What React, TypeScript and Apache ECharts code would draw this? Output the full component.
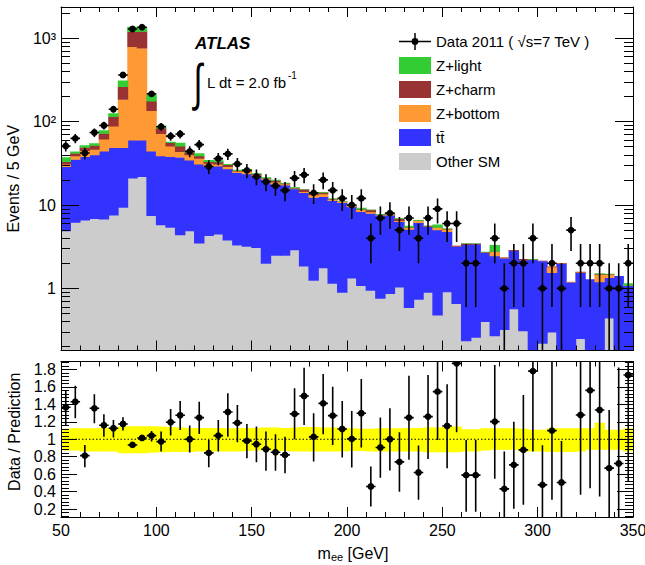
import React, { useEffect, useRef } from 'react';
import * as echarts from 'echarts';

// ---- bins (m_ee, 5 GeV wide, 50..350 GeV) ----
const binEdges: number[] = Array.from({ length: 61 }, (_, i) => 50 + 5 * i);

// ---- stacked MC components (events per bin) ----
const otherSM = [
  4.9, 6.2, 6.6, 6.9, 6.8, 7.6, 9.4, 21.1, 21.9, 7.5,
  5.8, 5.4, 4.4, 4.9, 3.5, 4.3, 4.5, 3.8, 3.3, 3.2,
  3.1, 2.0, 2.5, 2.5, 2.9, 1.86, 1.25, 1.77, 1.15, 0.9,
  1.33, 1.08, 0.95, 0.76, 0.87, 1.04, 0.59, 0.74, 0.9, 0.48,
  0.91, 0.66, 0.235, 0.26, 0.4, 0.27, 0.32, 0.57, 0.31, 0,
  0.22, 0.3, 0, 0, 0.25, 0, 0, 0.44, 0, 0,
];
const ttbar = [
  24.0, 29.2, 31.5, 33.0, 37.7, 41.2, 39.4, 39.2, 38.4, 37.0,
  33.0, 32.7, 33.1, 29.8, 27.6, 24.6, 24.9, 23.3, 21.2, 20.4,
  18.8, 18.4, 15.4, 14.9, 12.7, 12.24, 11.15, 10.83, 10.15, 9.8,
  8.17, 7.26, 7.03, 6.84, 6.73, 5.29, 4.54, 5.41, 4.61, 4.55,
  3.89, 2.57, 3.115, 3.16, 2.32, 2.19, 2.0, 2.29, 1.89, 2.22,
  1.92, 1.25, 2.0, 1.19, 1.3, 1.29, 1.2, 0.91, 1.41, 1.08,
];
const zBottom = [
  2.2, 3.4, 6.9, 6.8, 17.5, 40, 136, 733, 700, 91.5,
  33.2, 12.9, 6.2, 5.3, 5.3, 2.8, 1.6, 1.9, 1.0, 1.9,
  1.1, 0.5, 0.9, 0.6, 0.3, 0.4, 0.9, 1.0, 0.4, 0.3,
  0.3, 0.56, 0.32, 0.1, 0.2, 0.17, 0.27, 0.35, 0.04, 0.37,
  0.35, 0.01, 0.01, 0.01, 0.01, 0.31, 0.01, 0.01, 0.01, 0.01,
  0.01, 0.27, 0.01, 0.01, 0.02, 0, 0.28, 0.13, 0, 0.01,
];
const zCharm = [
  2.1, 3.1, 4.3, 5.3, 10.6, 26.2, 78, 407, 450, 41,
  12, 5, 7.3, 3, 2.4, 1.4, 2.0, 1.5, 0.5, 0.7,
  0.6, 0.2, 1.0, 0.3, 0.2, 1.0, 0.4, 0.6, 0.2, 0.05,
  0.1, 0.05, 0.45, 0.05, 0.15, 0.4, 0.05, 0.05, 0.1, 0.02,
  0.03, 0.01, 0.09, 0.01, 0.01, 0.01, 0.01, 0.01, 0.04, 0.01,
  0, 0.01, 0.01, 0, 0.01, 0, 0.02, 0.01, 0, 0,
];
const zLight = [
  4.2, 1.8, 2.7, 3.0, 6.3, 11, 48, 177, 140, 32,
  6, 1.4, 5, 1.5, 3.1, 1.6, 1.5, 0.6, 0.4, 0.9,
  0.4, 0.4, 0.3, 0.2, 0.2, 0.1, 0.1, 0.1, 0.1, 0.05,
  0.15, 0.35, 0.05, 0.05, 0.1, 0.02, 0.2, 0.05, 0.01, 0.43,
  0.04, 0, 0.01, 0.01, 0.01, 0.54, 0, 0, 0, 0.01,
  0, 0, 0, 0, 0, 0, 0.01, 0.01, 0, 0.06,
];

// ---- data ----
const dataEvents = [
  51, 63, 42, 74, 90, 141, 363, 1292, 1355, 215,
  87, 67, 71, 44, 53, 29, 36, 41, 31, 26,
  22, 19, 17, 15, 21, 23, 14, 20, 15, 12,
  10, 12, 4, 7, 8, 5, 7, 4, 7, 9,
  6, 6, 2, 2, 0, 4, 1, 2, 2, 4,
  1, 2, 1, 5, 2, 2, 2, 1, 1, 2,
];
const dataErr = [
  7.1, 7.9, 6.5, 8.6, 9.5, 11.9, 19.1, 35.9, 36.8, 14.7,
  9.3, 8.2, 8.4, 6.6, 7.3, 5.4, 6.0, 6.4, 5.6, 5.1,
  4.7, 4.4, 4.1, 3.9, 4.6, 4.8, 3.7, 4.5, 3.9, 3.5,
  3.2, 3.5, 2.0, 2.6, 2.8, 2.2, 2.6, 2.0, 2.6, 3.0,
  2.4, 2.4, 1.4, 1.4, 0, 2.0, 1.0, 1.4, 1.4, 2.0,
  1.0, 1.4, 1.0, 2.2, 1.4, 1.4, 1.4, 1.0, 1.0, 1.4,
];

// ---- ratio panel ----
const ratio: (number | null)[] = [
  1.366, 1.43, 0.813, 1.354, 1.16, 1.126, 1.175, 0.935, 1.015, 1.042,
  0.973, 1.194, 1.274, 1.0, 1.248, 0.844, 1.042, 1.312, 1.187, 0.981,
  0.943, 0.886, 0.851, 0.821, 1.29, 1.495, 1.027, 1.411, 1.27, 1.118,
  1.004, 1.297, 0.459, 0.905, 1.0, 0.741, 1.248, 0.619, 1.259, 1.545,
  1.152, 1.869, 0.589, 0.589, null, 1.202, 0.432, 0.707, 0.878, 1.78,
  0.478, 1.099, 0.505, null, 1.278, 1.56, 1.335, 0.669, 0.722, 1.735,
];
const ratioLo: (number | null)[] = [
  1.152, 1.24, 0.68, 1.183, 1.03, 1.019, 1.099, 0.905, 0.985, 0.973,
  0.859, 1.042, 1.107, 0.848, 1.061, 0.68, 0.859, 1.03, 0.966, 0.783,
  0.737, 0.638, 0.638, 0.611, 1.0, 1.164, 0.745, 1.057, 0.935, 0.79,
  0.676, 0.905, 0.23, 0.56, 0.642, 0.4, 0.764, 0.307, 0.775, 0.99,
  0.669, 1.08, 0.17, 0.17, null, 0.547, 0, 0.204, 0.25, 0.86,
  0, 0.307, 0, null, 0.364, 0.44, 0.345, 0, 0, 0.51,
];
const ratioHi: (number | null)[] = [
  1.564, 1.613, 0.935, 1.514, 1.286, 1.221, 1.251, 0.965, 1.045, 1.095,
  1.088, 1.347, 1.438, 1.156, 1.43, 0.992, 1.221, 1.526, 1.392, 1.175,
  1.145, 1.088, 1.057, 1.03, 1.583, 1.819, 1.297, 1.747, 1.602, 1.438,
  1.324, 1.69, 0.688, 1.248, 1.354, 1.08, 1.728, 0.928, 1.735, 2.1,
  1.629, 2.6, 0.99, 0.99, null, 1.85, 0.86, 1.2, 1.507, 2.67,
  0.93, 1.95, 0.98, null, 2.16, 2.65, 2.26, 1.335, 1.82, 2.95,
];
const bandUp = [
  0.12, 0.125, 0.125, 0.125, 0.13, 0.135, 0.145, 0.15, 0.15, 0.15,
  0.145, 0.14, 0.135, 0.13, 0.13, 0.13, 0.13, 0.125, 0.125, 0.13,
  0.13, 0.135, 0.135, 0.13, 0.135, 0.14, 0.14, 0.135, 0.135, 0.13,
  0.125, 0.12, 0.12, 0.125, 0.125, 0.125, 0.13, 0.13, 0.135, 0.135,
  0.145, 0.145, 0.115, 0.115, 0.125, 0.125, 0.125, 0.125, 0.12, 0.11,
  0.11, 0.125, 0.125, 0.125, 0.125, 0.125, 0.19, 0.11, 0.11, 0.125,
];
const bandDown = [
  0.13, 0.13, 0.14, 0.14, 0.14, 0.14, 0.16, 0.16, 0.16, 0.155,
  0.15, 0.145, 0.145, 0.145, 0.14, 0.14, 0.14, 0.14, 0.14, 0.135,
  0.13, 0.13, 0.13, 0.135, 0.14, 0.14, 0.14, 0.14, 0.14, 0.14,
  0.135, 0.135, 0.14, 0.14, 0.14, 0.14, 0.14, 0.14, 0.15, 0.15,
  0.15, 0.15, 0.14, 0.14, 0.13, 0.12, 0.12, 0.12, 0.14, 0.14,
  0.14, 0.145, 0.145, 0.145, 0.14, 0.12, 0.12, 0.12, 0.12, 0.14,
];

// ---- tick labels ----
const logTickValues = [1, 10, 100, 1000];
const logTickLabels: Record<number, string> = { 1: '1', 10: '10', 100: '10²', 1000: '10³' };
const ratioTickValues = [0.2, 0.4, 0.6, 0.8, 1, 1.2, 1.4, 1.6, 1.8];

const DATA_NAME = 'Data 2011 ( √s=7 TeV )';
const TT_NAME = 'tt\u0304';
const FONT = '"Liberation Sans", Arial, Helvetica, sans-serif';

const Y_MIN = 0.18;
const Y_MAX = 2370;
const R_MIN = 0.11;
const R_MAX = 1.89;
const TINY = 1e-4;
const OVERLAP = 0.45; // px overlap between neighbouring bins to hide anti-alias seams

const components = [
  { name: 'Other SM', values: otherSM, color: '#cccccc' },
  { name: TT_NAME, values: ttbar, color: '#3333ff' },
  { name: 'Z+bottom', values: zBottom, color: '#ff9933' },
  { name: 'Z+charm', values: zCharm, color: '#993333' },
  { name: 'Z+light', values: zLight, color: '#33cc33' },
];

function buildOption() {
  const cumulative = new Array(60).fill(0);
  const stackRows = components.map((c) =>
    c.values.map((v, i) => {
      const base = cumulative[i];
      cumulative[i] += v;
      return [binEdges[i], binEdges[i + 1], base, cumulative[i]];
    })
  );

  const centers = binEdges.slice(0, 60).map((e, i) => (e + binEdges[i + 1]) / 2);
  const halfW = (binEdges[1] - binEdges[0]) / 2;

  const logMinor: number[] = [];
  [0.1, 1, 10, 100, 1000].forEach((d) => {
    for (let k = 2; k <= 9; k++) {
      const v = k * d;
      if (v >= Y_MIN && v <= Y_MAX) logMinor.push(v);
    }
  });
  const ratioMinor: number[] = [];
  for (let k = 1; k < 50; k++) {
    if (k % 5 === 0) continue;
    const v = Math.round(k * 0.04 * 1000) / 1000;
    if (v >= R_MIN && v <= R_MAX) ratioMinor.push(v);
  }

  const black = { color: '#000', width: 1 };

  const xBase = (gridIndex: number, position: 'top' | 'bottom', labels: boolean) => ({
    gridIndex,
    type: 'value',
    min: 50,
    max: 350,
    interval: 50,
    position,
    z: 10,
    axisLine: { show: true, onZero: false, lineStyle: black },
    axisTick: { show: true, inside: true, length: 10, lineStyle: black },
    minorTick: { show: true, splitNumber: 5, length: 5, lineStyle: black },
    axisLabel: { show: labels, fontSize: 16, color: '#000', margin: 5, fontFamily: FONT },
    splitLine: { show: false },
    minorSplitLine: { show: false },
  });

  const yAxisCfg = (
    gridIndex: number,
    type: 'log' | 'value',
    min: number,
    max: number,
    position: 'left' | 'right',
    ticks: number[],
    length: number,
    line: boolean,
    labels: boolean,
    formatter?: (v: number) => string
  ) => ({
    gridIndex,
    type,
    ...(type === 'log' ? { logBase: 10 } : {}),
    min,
    max,
    position,
    z: 10,
    axisLine: { show: line, onZero: false, lineStyle: black },
    axisTick: { show: true, inside: true, length, lineStyle: black, customValues: ticks },
    axisLabel: {
      show: labels,
      customValues: ticks,
      fontSize: 16,
      color: '#000',
      fontFamily: FONT,
      margin: 5,
      formatter,
    },
    minorTick: { show: false },
    splitLine: { show: false },
  });

  const histSeries = components.map((c, ci) => ({
    type: 'custom',
    name: c.name,
    xAxisIndex: 0,
    yAxisIndex: 0,
    clip: true,
    z: 2,
    itemStyle: { color: c.color },
    encode: { x: [0, 1], y: [2, 3] },
    data: stackRows[ci],
    renderItem: (_p: any, api: any) => {
      const x0 = api.value(0);
      const x1 = api.value(1);
      const b = api.value(2);
      const t = api.value(3);
      if (!(t > b)) return null;
      const p0 = api.coord([x0, Math.max(t, TINY)]);
      const p1 = api.coord([x1, Math.max(b, TINY)]);
      return {
        type: 'rect',
        shape: {
          x: p0[0] - OVERLAP,
          y: p0[1],
          width: p1[0] - p0[0] + 2 * OVERLAP,
          height: p1[1] - p0[1] + OVERLAP,
        },
        style: { fill: c.color },
      };
    },
  }));

  const dataRows = centers
    .map((x, i) => [x, dataEvents[i], dataErr[i]])
    .filter((r) => r[1] > 0);

  const pointGroup = (api: any, x: number, y: number, lo: number, hi: number, yClamp: number) => {
    const pc = api.coord([x, y]);
    const pl = api.coord([x, Math.max(lo, yClamp)]);
    const ph = api.coord([x, hi]);
    const pxl = api.coord([x - halfW, y]);
    const pxr = api.coord([x + halfW, y]);
    return {
      type: 'group',
      children: [
        { type: 'line', shape: { x1: pc[0], y1: pl[1], x2: pc[0], y2: ph[1] }, style: { stroke: '#000', lineWidth: 1.6 } },
        { type: 'line', shape: { x1: pxl[0], y1: pc[1], x2: pxr[0], y2: pc[1] }, style: { stroke: '#000', lineWidth: 1.6 } },
        { type: 'circle', shape: { cx: pc[0], cy: pc[1], r: 3.4 }, style: { fill: '#000' } },
      ],
    };
  };

  const dataSeries = {
    type: 'custom',
    name: DATA_NAME,
    xAxisIndex: 0,
    yAxisIndex: 0,
    clip: true,
    z: 5,
    itemStyle: { color: '#000' },
    encode: { x: 0, y: 1 },
    data: dataRows,
    renderItem: (_p: any, api: any) => {
      const x = api.value(0);
      const y = api.value(1);
      const e = api.value(2);
      return pointGroup(api, x, y, y - e, y + e, TINY);
    },
  };

  const bandRows = binEdges.slice(0, 60).map((e, i) => [e, binEdges[i + 1], 1 - bandDown[i], 1 + bandUp[i]]);
  const bandSeries = {
    type: 'custom',
    name: 'band',
    xAxisIndex: 2,
    yAxisIndex: 4,
    clip: true,
    z: 1,
    encode: { x: [0, 1], y: [2, 3] },
    data: bandRows,
    renderItem: (_p: any, api: any) => {
      const p0 = api.coord([api.value(0), api.value(3)]);
      const p1 = api.coord([api.value(1), api.value(2)]);
      return {
        type: 'rect',
        shape: {
          x: p0[0] - OVERLAP,
          y: p0[1],
          width: p1[0] - p0[0] + 2 * OVERLAP,
          height: p1[1] - p0[1],
        },
        style: { fill: '#ffff00' },
      };
    },
  };

  const unityLine = {
    type: 'line',
    name: 'unity',
    xAxisIndex: 2,
    yAxisIndex: 4,
    z: 3,
    symbol: 'none',
    silent: true,
    data: [
      [50, 1],
      [350, 1],
    ],
    lineStyle: { color: '#000', width: 1, type: [1.5, 2] },
  };

  const ratioRows: number[][] = [];
  centers.forEach((x, i) => {
    const r = ratio[i];
    if (r === null) return;
    ratioRows.push([x, r, ratioLo[i] as number, ratioHi[i] as number]);
  });
  const ratioSeries = {
    type: 'custom',
    name: 'ratio',
    xAxisIndex: 2,
    yAxisIndex: 4,
    clip: true,
    z: 5,
    encode: { x: 0, y: 1 },
    data: ratioRows,
    renderItem: (_p: any, api: any) =>
      pointGroup(api, api.value(0), api.value(1), api.value(2), api.value(3), -1),
  };

  const dataIcon =
    'path://M0,7.75L32,7.75L32,9.25L0,9.25Z M15.25,0L16.75,0L16.75,17L15.25,17Z M12.6,8.5A3.4,3.4,0,1,1,19.4,8.5A3.4,3.4,0,1,1,12.6,8.5Z';

  const logFmt = (v: number) => logTickLabels[Math.round(v)] ?? String(v);
  const ratioFmt = (v: number) => String(Math.round(v * 10) / 10);

  const yAxes: any[] = [
    {
      ...yAxisCfg(0, 'log', Y_MIN, Y_MAX, 'left', logTickValues, 18, true, true, logFmt),
      name: 'Events / 5 GeV',
      nameLocation: 'middle',
      nameGap: 37,
      nameTextStyle: { fontSize: 16, color: '#000', fontFamily: FONT },
    },
    yAxisCfg(0, 'log', Y_MIN, Y_MAX, 'left', logMinor, 9, false, false),
    yAxisCfg(0, 'log', Y_MIN, Y_MAX, 'right', logTickValues, 18, true, false),
    yAxisCfg(0, 'log', Y_MIN, Y_MAX, 'right', logMinor, 9, false, false),
    {
      ...yAxisCfg(1, 'value', R_MIN, R_MAX, 'left', ratioTickValues, 16, true, true, ratioFmt),
      name: 'Data / Prediction',
      nameLocation: 'middle',
      nameGap: 37,
      nameTextStyle: { fontSize: 16, color: '#000', fontFamily: FONT, padding: [0, 0, 0, 15] },
    },
    yAxisCfg(1, 'value', R_MIN, R_MAX, 'left', ratioMinor, 8, false, false),
    yAxisCfg(1, 'value', R_MIN, R_MAX, 'right', ratioTickValues, 16, true, false),
    yAxisCfg(1, 'value', R_MIN, R_MAX, 'right', ratioMinor, 8, false, false),
  ];

  const textStyleBase = (size: number, align: string) => ({
    fontSize: size,
    fontFamily: FONT,
    fill: '#000',
    align,
    verticalAlign: 'middle',
    textAlign: align,
    textVerticalAlign: 'middle',
  });

  return {
    animation: false,
    backgroundColor: '#fff',
    textStyle: { fontFamily: FONT, color: '#000' },
    grid: [
      { left: 61, top: 7, width: 572, height: 343.5, outerBoundsMode: 'none', containLabel: false },
      { left: 61, top: 361.5, width: 572, height: 155.5, outerBoundsMode: 'none', containLabel: false },
    ],
    xAxis: [
      xBase(0, 'bottom', false),
      xBase(0, 'top', false),
      {
        ...xBase(1, 'bottom', true),
        name: '{m|m}{s|ee}{g| [GeV]}',
        nameLocation: 'middle',
        nameGap: 27,
        nameTextStyle: {
          padding: [0, 0, 0, 12],
          rich: {
            m: { fontSize: 16, color: '#000', fontFamily: FONT },
            s: { fontSize: 11, color: '#000', fontFamily: FONT, padding: [7, 0, 0, 0] },
            g: { fontSize: 16, color: '#000', fontFamily: FONT },
          },
        },
      },
      xBase(1, 'top', false),
    ],
    yAxis: yAxes,
    legend: {
      orient: 'vertical',
      left: 399,
      top: 33,
      padding: 0,
      itemWidth: 32,
      itemHeight: 17,
      itemGap: 7,
      selectedMode: false,
      textStyle: { fontSize: 15, color: '#000', fontFamily: FONT },
      data: [
        { name: DATA_NAME, icon: dataIcon },
        { name: 'Z+light', icon: 'rect' },
        { name: 'Z+charm', icon: 'rect' },
        { name: 'Z+bottom', icon: 'rect' },
        { name: TT_NAME, icon: 'rect' },
        { name: 'Other SM', icon: 'rect' },
      ],
    },
    graphic: [
      {
        type: 'text',
        x: 195,
        y: 43,
        style: { ...textStyleBase(17, 'left'), text: 'ATLAS', fontWeight: 'bold', fontStyle: 'italic' },
      },
      {
        type: 'text',
        x: 198,
        y: 82,
        scaleX: 1,
        scaleY: 1.6,
        style: { ...textStyleBase(32, 'center'), text: '∫' },
      },
      {
        type: 'text',
        x: 207,
        y: 82,
        style: { ...textStyleBase(15, 'left'), text: 'L dt = 2.0 fb' },
      },
      {
        type: 'text',
        x: 288,
        y: 75,
        style: { ...textStyleBase(10, 'left'), text: '-1' },
      },
    ],
    series: [...histSeries, dataSeries, bandSeries, unityLine, ratioSeries],
  };
}

export default function App() {
  const ref = useRef<HTMLDivElement>(null);
  useEffect(() => {
    if (!ref.current) return;
    const chart = echarts.init(ref.current, null, { renderer: 'svg', width: 645, height: 565 });
    chart.setOption(buildOption() as any);
    return () => chart.dispose();
  }, []);
  return (
    <div
      ref={ref}
      style={{ position: 'fixed', left: 0, top: 0, width: 645, height: 565, background: '#fff' }}
    />
  );
}
